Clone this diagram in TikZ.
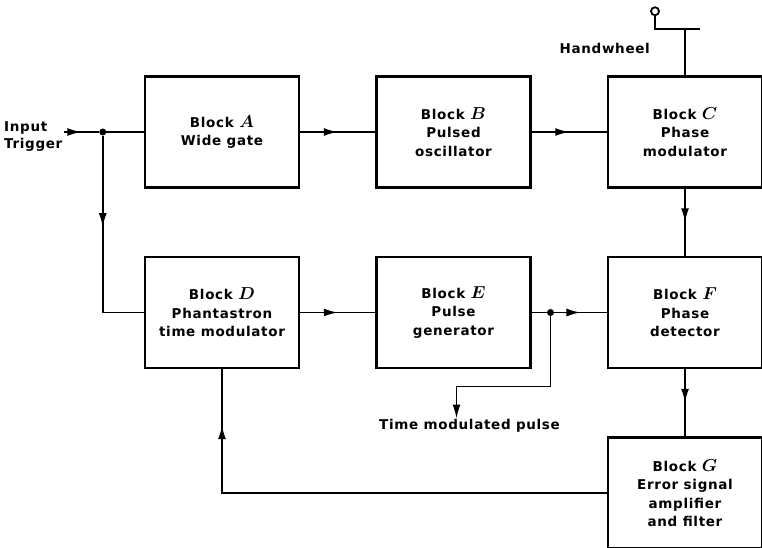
\documentclass[tikz,border=0pt]{standalone}
\usepackage{fontspec}
\setmainfont{DejaVu Sans}[LetterSpace=5]
\usetikzlibrary{positioning,arrows.meta,calc,decorations.markings}
\newcommand{\blk}[1]{{\fontsize{16.5}{16}\selectfont\boldmath$#1$}}

\begin{document}
\begin{tikzpicture}[x=1pt,y=-1pt,node distance=67pt and 75pt,
  box/.style={draw,line width=2.5pt,minimum width=154pt,minimum height=111pt,align=center,font=\bfseries\fontsize{13.5}{18.5}\selectfont},
  lbl/.style={font=\bfseries\fontsize{13.5}{17}\selectfont,inner sep=1pt},
  wire/.style={line width=1.7pt},
  tip/.style={-{Latex[length=14pt,width=8pt]}},
  midarr/.style={postaction={decorate},decoration={markings,mark=at position #1 with {\arrow{Latex[length=14pt,width=8pt]}}}},
  midarr/.default=.5,
  dot/.style={circle,fill,inner sep=0pt,minimum size=7pt}]
\useasboundingbox (0,0) rectangle (762,548);
% blocks
\node[box] (A) at (222,132) {Block \blk{A}\\Wide gate};
\node[box,right=of A] (B) {Block \blk{B}\\Pulsed\\oscillator};
\node[box,right=of B] (C) {Block \blk{C}\\Phase\\modulator};
\node[box,below=of A] (D) {Block \blk{D}\\Phantastron\\time modulator};
\node[box,right=of D] (E) {Block \blk{E}\\Pulse\\generator};
\node[box,right=of E] (F) {Block \blk{F}\\Phase\\detector};
\node[box,below=of F] (G) {Block \blk{G}\\Error signal\\amplifier\\and filter};
% labels and junctions
\node[lbl,align=left,anchor=west] (trig) at (3,137) {Input\\Trigger};
\node[dot] (jn) at ($(A.west)+(-41,0)$) {};
\node[dot] (je) at ($(E.east)!.25!(F.west)$) {};
\node[lbl] (pulse) at ($(E.south)+(16,57)$) {Time modulated pulse};
\coordinate (bend) at ($(je)+(-94,74)$);
\coordinate (hw) at ($(C.north)+(0,-46)$);
\node[circle,draw,line width=1.8pt,inner sep=0pt,minimum size=8pt] (knob) at ($(hw)+(-30,-18)$) {};
\node[lbl,anchor=east] (hwl) at ($(hw)+(-34,19)$) {Handwheel};
% connectors
\draw[wire,midarr] (trig.east |- jn) -- (jn);
\draw[wire] (jn) -- (jn -| A.west);
\draw[wire,midarr=.42] (jn) |- (D.west);
\draw[wire,midarr] (A) -- (B);\draw[wire,midarr] (B) -- (C);
\draw[wire,midarr] (D) -- (E);\draw[wire] (E.east) -- (je);
\draw[wire,midarr] (je) -- (F.west);
\draw[wire,tip] (je) |- (bend) -- (bend |- pulse.north);
\draw[wire,midarr] (C) -- (F);\draw[wire,midarr] (F) -- (G);
\draw[wire,midarr=.89] (G.west) -| (D.south);
\draw[wire,line width=2pt] (knob) |- ($(hw)+(15,0)$);\draw[wire,line width=2pt] (hw) -- (C.north);
\end{tikzpicture}
\end{document}
